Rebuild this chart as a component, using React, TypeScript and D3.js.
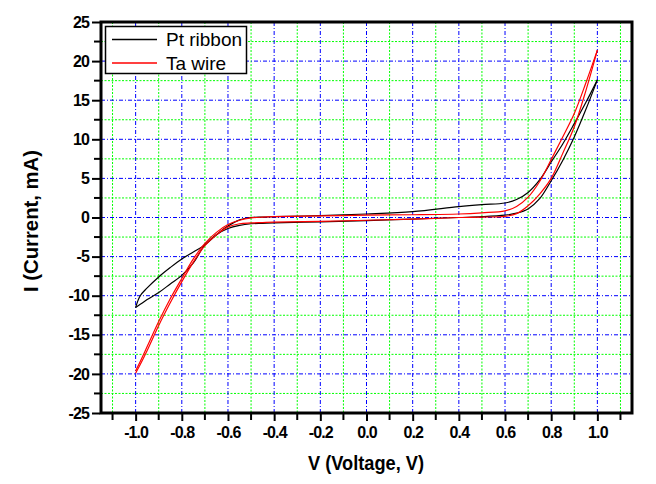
import React, { useEffect, useRef } from 'react';
import * as d3 from 'd3';

const width = 656;
const height = 484;
const plotLeft = 101;
const plotRight = 632;
const plotTop = 22;
const plotBottom = 413;

// sweep voltage (V), shared by every branch
const voltage = [
  -1.0, -0.98, -0.95, -0.9, -0.85, -0.8, -0.75, -0.7, -0.65, -0.6, -0.55, -0.5,
  -0.45, -0.4, -0.2, 0.0, 0.2, 0.4, 0.5, 0.6, 0.65, 0.7, 0.75, 0.8, 0.85, 0.9,
  0.95, 1.0,
];

// Pt ribbon (mA)
const ptUpper = [
  -11.5, -10.0, -9.0, -7.6, -6.4, -5.3, -4.4, -3.5, -2.2, -1.1, -0.3, 0.0, 0.05,
  0.1, 0.25, 0.45, 0.75, 1.4, 1.65, 1.85, 2.3, 3.2, 4.8, 7.1, 9.4, 12.0, 14.7,
  17.6,
];
const ptLower = [
  -11.5, -11.1, -10.5, -9.6, -8.5, -7.4, -5.8, -3.5, -2.2, -1.4, -1.0, -0.8,
  -0.75, -0.7, -0.55, -0.4, -0.2, 0.0, 0.1, 0.3, 0.55, 1.1, 2.4, 4.7, 7.3, 10.3,
  13.8, 17.6,
];

// Ta wire (mA)
const taUpper = [
  -19.6, -18.4, -16.5, -13.3, -10.4, -7.8, -5.3, -3.3, -1.9, -0.9, -0.35, -0.05,
  0.05, 0.1, 0.2, 0.3, 0.35, 0.45, 0.6, 0.85, 1.4, 2.6, 4.6, 7.4, 10.3, 13.3,
  17.2, 21.4,
];
const taLower = [
  -19.9, -18.8, -17.0, -13.8, -10.9, -8.2, -5.7, -3.6, -2.2, -1.2, -0.8, -0.7,
  -0.65, -0.6, -0.5, -0.35, -0.2, 0.0, 0.05, 0.15, 0.5, 1.5, 3.0, 5.0, 8.2, 11.6,
  16.2, 21.4,
];

const xMajor = [-1.0, -0.8, -0.6, -0.4, -0.2, 0.0, 0.2, 0.4, 0.6, 0.8, 1.0];
const xMinor = [-1.1, -0.9, -0.7, -0.5, -0.3, -0.1, 0.1, 0.3, 0.5, 0.7, 0.9, 1.1];
const yMajor = [-25, -20, -15, -10, -5, 0, 5, 10, 15, 20, 25];
const yMinor = [-22.5, -17.5, -12.5, -7.5, -2.5, 2.5, 7.5, 12.5, 17.5, 22.5];

const seriesNames = ['Pt ribbon', 'Ta wire'];
const seriesColors = ['#000000', '#ff0000'];

const fontFamily = '"Liberation Sans", Arial, sans-serif';

export default function App() {
  const xAxisRef = useRef(null);
  const yAxisRef = useRef(null);

  const x = d3.scaleLinear().domain([-1.15, 1.15]).range([plotLeft, plotRight]);
  const y = d3.scaleLinear().domain([-25, 25]).range([plotBottom, plotTop]);

  const line = d3
    .line<number>()
    .x((_, i) => x(voltage[i]))
    .y((d) => y(d))
    .curve(d3.curveCatmullRom.alpha(0.5));

  useEffect(() => {
    const gx = d3.select(xAxisRef.current);
    gx.selectAll('*').remove();
    gx.call(
      d3
        .axisBottom(x)
        .tickValues(xMajor)
        .tickSize(7)
        .tickPadding(6)
        .tickFormat(d3.format('.1f'))
    )
      .call((g) => g.select('.domain').remove())
      .call((g) => g.selectAll('.tick line').attr('stroke-width', 2))
      .call((g) =>
        g
          .selectAll('.tick text')
          .attr('font-size', 16)
          .attr('font-weight', 'bold')
          .attr('font-family', fontFamily)
          .attr('letter-spacing', -0.9)
          .text((d: any) => (d < 0 ? '-' : '') + Math.abs(d).toFixed(1))
      );
    gx.append('g')
      .selectAll('line')
      .data(xMinor)
      .join('line')
      .attr('x1', (d) => x(d))
      .attr('x2', (d) => x(d))
      .attr('y1', 0)
      .attr('y2', 6)
      .attr('stroke', '#000')
      .attr('stroke-width', 2);

    const gy = d3.select(yAxisRef.current);
    gy.selectAll('*').remove();
    gy.call(d3.axisLeft(y).tickValues(yMajor).tickSize(8).tickPadding(3))
      .call((g) => g.select('.domain').remove())
      .call((g) => g.selectAll('.tick line').attr('stroke-width', 2))
      .call((g) =>
        g
          .selectAll('.tick text')
          .attr('font-size', 16)
          .attr('font-weight', 'bold')
          .attr('font-family', fontFamily)
          .attr('letter-spacing', -0.9)
          .text((d: any) => (d < 0 ? '-' : '') + Math.abs(d))
      );
    gy.append('g')
      .selectAll('line')
      .data(yMinor)
      .join('line')
      .attr('x1', -6)
      .attr('x2', 0)
      .attr('y1', (d) => y(d))
      .attr('y2', (d) => y(d))
      .attr('stroke', '#000')
      .attr('stroke-width', 2);
  }, []);

  return (
    <svg
      width={width}
      height={height}
      style={{ position: 'absolute', left: 0, top: 0, background: '#fff' }}
    >
      {/* grid */}
      <g strokeWidth={1}>
        {xMinor.map((v) => (
          <line key={'gx' + v} x1={x(v)} x2={x(v)} y1={plotTop} y2={plotBottom} stroke="#00ff00" strokeDasharray="2,1.5" />
        ))}
        {yMinor.map((v) => (
          <line key={'gy' + v} x1={plotLeft} x2={plotRight} y1={y(v)} y2={y(v)} stroke="#00ff00" strokeDasharray="2,1.5" />
        ))}
        {xMajor.map((v) => (
          <line key={'bx' + v} x1={x(v)} x2={x(v)} y1={plotTop} y2={plotBottom} stroke="#0000ff" strokeDasharray="4,2,1,2" />
        ))}
        {yMajor.slice(1, -1).map((v) => (
          <line key={'by' + v} x1={plotLeft} x2={plotRight} y1={y(v)} y2={y(v)} stroke="#0000ff" strokeDasharray="4,2,1,2" />
        ))}
      </g>

      {/* curves */}
      <g fill="none" strokeWidth={1.2}>
        <path d={line(ptUpper) ?? ''} stroke={seriesColors[0]} />
        <path d={line(ptLower) ?? ''} stroke={seriesColors[0]} />
        <path d={line(taUpper) ?? ''} stroke={seriesColors[1]} />
        <path d={line(taLower) ?? ''} stroke={seriesColors[1]} />
      </g>

      {/* frame */}
      <rect
        x={plotLeft}
        y={plotTop}
        width={plotRight - plotLeft}
        height={plotBottom - plotTop}
        fill="none"
        stroke="#000"
        strokeWidth={3}
      />

      <g ref={xAxisRef} transform={`translate(0,${plotBottom + 1})`} color="#000"></g>
      <g ref={yAxisRef} transform={`translate(${plotLeft - 1},0)`} color="#000"></g>

      {/* legend */}
      <g fontFamily={fontFamily} fontSize={19}>
        <rect x={105.5} y={26.5} width={141} height={47} fill="#fff" stroke="#000" strokeWidth={1.5} />
        {seriesNames.map((name, i) => (
          <g key={name}>
            <line x1={112} x2={157} y1={39.5 + i * 23.5} y2={39.5 + i * 23.5} stroke={seriesColors[i]} strokeWidth={1.3} />
            <text x={166} y={46 + i * 23.5} fill="#000">
              {name}
            </text>
          </g>
        ))}
      </g>

      {/* axis titles */}
      <text
        x={366}
        y={470}
        textAnchor="middle"
        fontFamily={fontFamily}
        fontWeight="bold"
        fontSize={21}
        textLength={116}
        lengthAdjust="spacingAndGlyphs"
      >
        V (Voltage, V)
      </text>
      <text
        transform="translate(38,221) rotate(-90)"
        textAnchor="middle"
        fontFamily={fontFamily}
        fontWeight="bold"
        fontSize={21}
        textLength={142}
        lengthAdjust="spacingAndGlyphs"
      >
        I (Current, mA)
      </text>
    </svg>
  );
}
